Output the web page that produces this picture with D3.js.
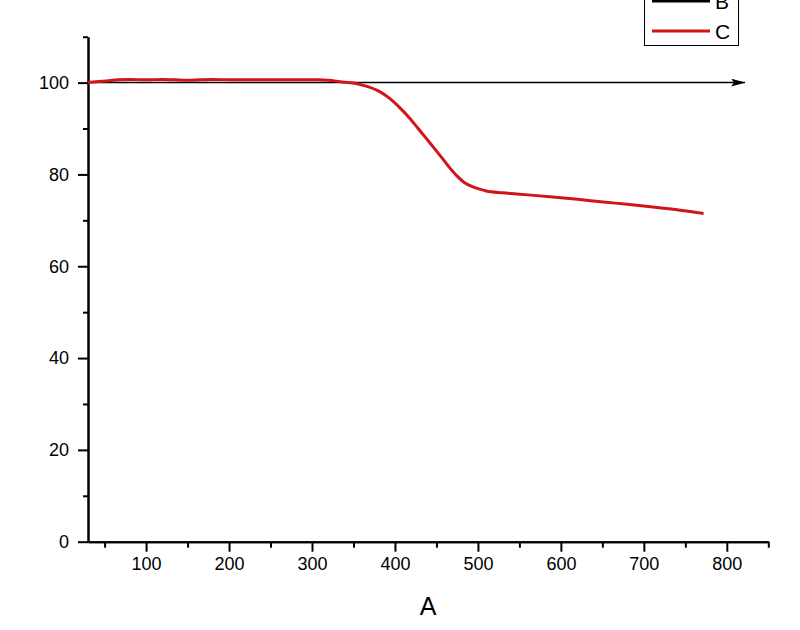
<!DOCTYPE html>
<html>
<head>
<meta charset="utf-8">
<script src="https://cdn.jsdelivr.net/npm/d3@7"></script>
<style>
  body { margin: 0; background: #fff; }
  text { font-family: "Liberation Sans", Arial, sans-serif; }
</style>
</head>
<body>
<svg id="chart"></svg>
<script>
// series C (red curve)
const xC = [30, 40, 55, 66, 80, 100, 120, 150, 180, 210, 250, 280, 307, 320, 334, 350, 364, 380, 394, 406,
  418, 428, 438, 446, 454, 464, 474, 484, 494, 502, 510, 530, 550, 590, 620, 651, 680, 711, 740, 772];
const yC = [100.0, 100.2, 100.4, 100.6, 100.7, 100.6, 100.7, 100.5, 100.7, 100.6, 100.6, 100.6, 100.6, 100.5, 100.2, 99.9, 99.3, 98.2, 96.5, 94.5,
  92.2, 90.0, 87.8, 86.0, 84.2, 81.9, 79.8, 78.2, 77.3, 76.8, 76.4, 76.0, 75.7, 75.1, 74.6, 74.0, 73.5, 72.9, 72.3, 71.5];
// series B (black reference line with arrow)
const xB = [30, 822];
const yB = [100, 100];

const xTicks = [100, 200, 300, 400, 500, 600, 700, 800];
const xMinor = [50, 150, 250, 350, 450, 550, 650, 750, 850];
const yTicks = [0, 20, 40, 60, 80, 100];
const yMinor = [10, 30, 50, 70, 90, 110];
const seriesNames = ['B', 'C'];
const seriesColors = ['#000000', '#d01418'];

const [width, height] = [800, 630];

let svg = d3.select('#chart')
  .attr('width', width)
  .attr('height', height)

let x = d3.scaleLinear().domain([30, 850]).range([88, 768.3])
let y = d3.scaleLinear().domain([0, 110]).range([541.7, 36.7])

svg.append('defs').append('marker')
  .attr('id', 'arrow')
  .attr('viewBox', '0 0 14 8')
  .attr('refX', 14)
  .attr('refY', 4)
  .attr('markerWidth', 14)
  .attr('markerHeight', 8)
  .attr('markerUnits', 'userSpaceOnUse')
  .attr('orient', 'auto')
  .append('path')
  .attr('d', 'M0,0 L14,4 L0,8 L3,4 Z')
  .attr('fill', '#000')

// axes
let xAxis = svg.append('g')
  .attr('transform', 'translate(0,' + y(0) + ')')
  .call(d3.axisBottom(x).tickValues(xTicks).tickSize(10).tickPadding(6).tickSizeOuter(0))
let xMinorG = svg.append('g')
  .attr('transform', 'translate(0,' + y(0) + ')')
  .call(d3.axisBottom(x).tickValues(xMinor).tickSize(6).tickFormat('').tickSizeOuter(0))

let yAxis = svg.append('g')
  .attr('transform', 'translate(' + x(30) + ',0)')
  .call(d3.axisLeft(y).tickValues(yTicks).tickSize(10).tickPadding(9).tickSizeOuter(0))
let yMinorG = svg.append('g')
  .attr('transform', 'translate(' + x(30) + ',0)')
  .call(d3.axisLeft(y).tickValues(yMinor).tickSize(5).tickFormat('').tickSizeOuter(0))

svg.selectAll('.domain').attr('stroke', '#000').attr('stroke-width', 2)
svg.selectAll('.tick line').attr('stroke', '#000').attr('stroke-width', 2)
svg.selectAll('.tick text')
  .attr('font-size', 18)
  .attr('fill', '#000')
  .style('font-family', '"Liberation Sans", Arial, sans-serif')

svg.append('text')
  .attr('x', 428)
  .attr('y', 615)
  .attr('text-anchor', 'middle')
  .attr('font-size', 25)
  .text('A')

// lines
let line = d3.line()
  .x(d => x(d[0]))
  .y(d => y(d[1]))

svg.append('path')
  .datum(xB.map((v, i) => [v, yB[i]]))
  .attr('d', line)
  .attr('fill', 'none')
  .attr('stroke', seriesColors[0])
  .attr('stroke-width', 1.5)
  .attr('marker-end', 'url(#arrow)')

svg.append('path')
  .datum(xC.map((v, i) => [v, yC[i]]))
  .attr('d', line.curve(d3.curveMonotoneX))
  .attr('fill', 'none')
  .attr('stroke', seriesColors[1])
  .attr('stroke-width', 3)
  .attr('stroke-linejoin', 'round')

// legend
let legend = svg.append('g')
svg.append('rect')
  .attr('x', 644.5)
  .attr('y', -20)
  .attr('width', 94)
  .attr('height', 65.5)
  .attr('fill', 'none')
  .attr('stroke', '#000')
  .attr('stroke-width', 1)

let items = svg.append('g').selectAll('g')
  .data(seriesNames)
  .enter()
  .append('g')
  .attr('transform', (d, i) => 'translate(0,' + (1 + i * 30) + ')')
items.append('line')
  .attr('x1', 652)
  .attr('x2', 710)
  .attr('stroke', (d, i) => seriesColors[i])
  .attr('stroke-width', 3)
items.append('text')
  .attr('x', 715)
  .attr('y', 7.5)
  .attr('font-size', 21)
  .text(d => d)
</script>
</body>
</html>
